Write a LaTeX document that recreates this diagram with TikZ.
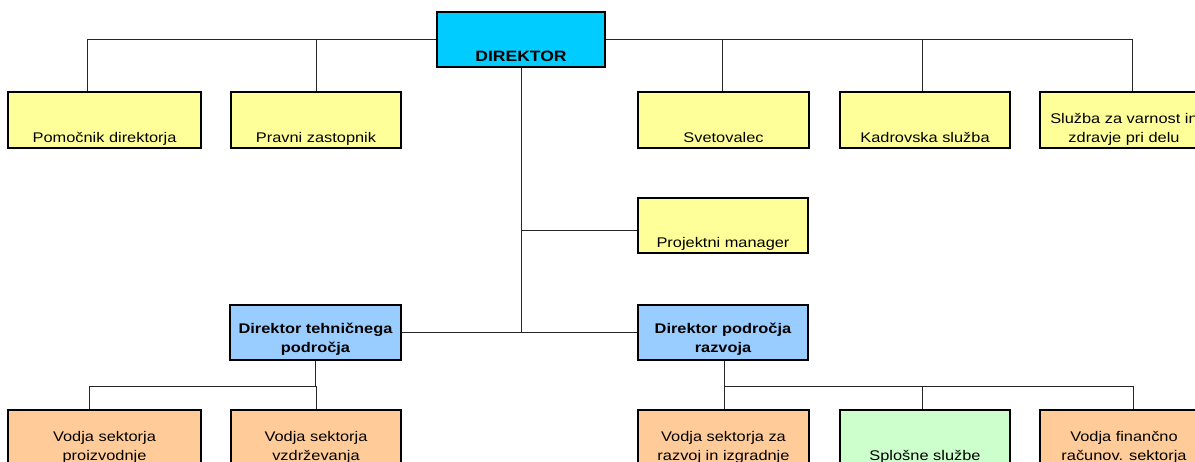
\documentclass[tikz,border=0pt]{standalone}
\usepackage{fontspec}
\setmainfont{Liberation Sans}[FakeStretch=1.17]
\definecolor{dcyan}{HTML}{00CCFF}
\definecolor{yel}{HTML}{FFFF99}
\definecolor{blu}{HTML}{99CCFF}
\definecolor{ora}{HTML}{FFCC99}
\definecolor{grn}{HTML}{CCFFCC}
\tikzset{
  box/.style={draw=black, line width=2pt, rectangle, inner sep=0pt, minimum height=55pt},
  lbl/.style={anchor=south, inner sep=0pt, text depth=0pt, align=center, font=\fontsize{14}{19}\selectfont},
  blbl/.style={lbl, font=\fontsize{14}{19}\selectfont\bfseries},
  conn/.style={draw=black!85, line width=1pt},
}
\begin{document}
\begin{tikzpicture}[x=1pt,y=-1pt]
\useasboundingbox (0,0) rectangle (1195,461);
\clip (0,0) rectangle (1195,461);
\fill[white] (0,0) rectangle (1195,461);
% nodes
\node[box, fill=dcyan, minimum width=168pt] (dir) at (521,39.5) {};
\node[lbl, font=\fontsize{15}{19}\selectfont\bfseries] (dirT) at ([yshift=6pt]dir.south) {DIREKTOR};

\node[box, fill=yel, minimum width=193pt, minimum height=56pt] (pom) at (104.5,120) {};
\node[lbl] (pomT) at ([yshift=6pt]pom.south) {Pomočnik direktorja};
\node[box, fill=yel, minimum width=170pt, minimum height=56pt] (pra) at (316,120) {};
\node[lbl] (praT) at ([yshift=6pt]pra.south) {Pravni zastopnik};
\node[box, fill=yel, minimum width=171pt, minimum height=56pt] (sve) at (723.5,120) {};
\node[lbl] (sveT) at ([yshift=6pt]sve.south) {Svetovalec};
\node[box, fill=yel, minimum width=170pt, minimum height=56pt] (kad) at (925,120) {};
\node[lbl] (kadT) at ([yshift=6pt]kad.south) {Kadrovska služba};
\node[box, fill=yel, minimum width=168pt, minimum height=56pt] (slu) at (1124,120) {};
\node[lbl] (sluT) at ([yshift=6pt]slu.south) {Služba za varnost in\\zdravje pri delu};

\node[box, fill=yel, minimum width=170pt, minimum height=55pt] (proj) at (723,225.5) {};
\node[lbl] (projT) at ([yshift=6pt]proj.south) {Projektni manager};

\node[box, fill=blu, minimum width=171pt, minimum height=55pt] (dtech) at (315.5,332.5) {};
\node[blbl] (dtechT) at ([yshift=8pt]dtech.south) {Direktor tehničnega\\področja};
\node[box, fill=blu, minimum width=170pt, minimum height=55pt] (draz) at (723,332.5) {};
\node[blbl] (drazT) at ([yshift=8pt]draz.south) {Direktor področja\\razvoja};

\node[box, fill=ora, minimum width=193pt, minimum height=56pt] (vp) at (104.5,438) {};
\node[lbl] (vpT) at ([yshift=6pt]vp.south) {Vodja sektorja\\proizvodnje};
\node[box, fill=ora, minimum width=170pt, minimum height=56pt] (vv) at (316,438) {};
\node[lbl] (vvT) at ([yshift=6pt]vv.south) {Vodja sektorja\\vzdrževanja};
\node[box, fill=ora, minimum width=171pt, minimum height=56pt] (vr) at (723.5,438) {};
\node[lbl] (vrT) at ([yshift=6pt]vr.south) {Vodja sektorja za\\razvoj in izgradnje};
\node[box, fill=grn, minimum width=170pt, minimum height=56pt] (vs) at (925,438) {};
\node[lbl] (vsT) at ([yshift=6pt]vs.south) {Splošne službe};
\node[box, fill=ora, minimum width=168pt, minimum height=56pt] (vf) at (1124,438) {};
\node[lbl] (vfT) at ([yshift=6pt]vf.south) {Vodja finančno\\računov. sektorja};

\coordinate (tb) at (316,386);
% connectors
\draw[conn] (dir.west) -| ([xshift=-17.5pt]pom.north);
\draw[conn] (pra.north) -- (pra.north |- dir.west);
\draw[conn] (dir.east) -| ([xshift=8pt]slu.north);
\draw[conn] ([xshift=-1.5pt]sve.north) -- ([xshift=-1.5pt]sve.north |- dir.east);
\draw[conn] ([xshift=-3pt]kad.north) -- ([xshift=-3pt]kad.north |- dir.east);
\draw[conn] (dir.south) -- (dir.south |- dtech.east);
\draw[conn] ([yshift=-5pt]proj.west -| dir.south) -- ([yshift=-5pt]proj.west);
\draw[conn] (dtech.east) -- (draz.west);
\draw[conn] (dtech.south) -- (dtech.south |- tb) -| ([xshift=-15.5pt]vp.north);
\draw[conn] (vv.north) -- (vv.north |- tb);
\draw[conn] ([xshift=1pt]draz.south) -- ([xshift=1pt]draz.south |- vr.north);
\draw[conn] ([xshift=1pt]draz.south |- tb) -| ([xshift=9pt]vf.north);
\draw[conn] ([xshift=-3pt]vs.north) -- ([xshift=-3pt]vs.north |- tb);
\end{tikzpicture}
\end{document}
